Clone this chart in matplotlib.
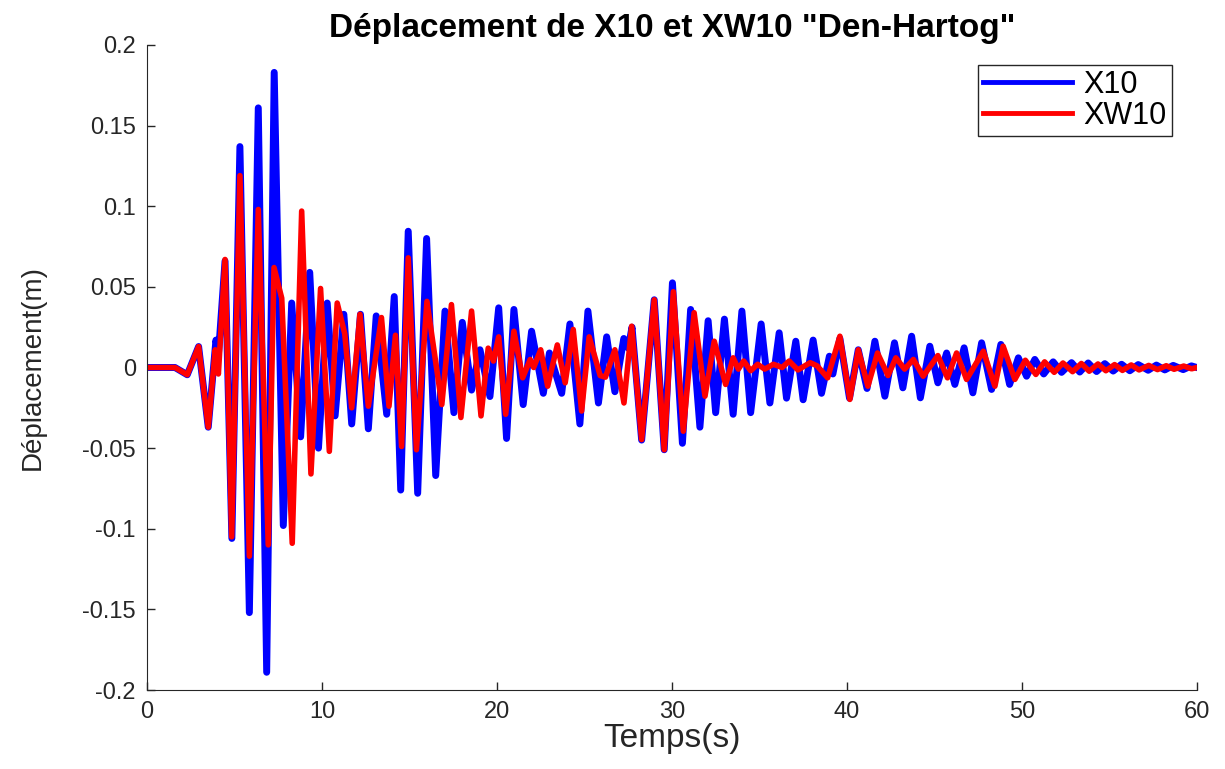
import matplotlib
matplotlib.use('Agg')
import matplotlib.pyplot as plt

# turning points (time in s, displacement in m)
t_x10 = [0, 1.6, 2.3, 2.95, 3.5, 3.94, 4.08, 4.46, 4.85, 5.31, 5.85, 6.36, 6.84, 7.27,
         7.79, 8.27, 8.78, 9.3, 9.8, 10.3, 10.75, 11.25, 11.7, 12.2, 12.65, 13.1, 13.7,
         14.13, 14.5, 14.93, 15.47, 15.98, 16.5, 17.03, 17.54, 18.02, 18.55, 19.03, 19.6,
         20.1, 20.55, 20.97, 21.5, 21.98, 22.65, 23.0, 23.7, 24.17, 24.74, 25.2, 25.8,
         26.27, 26.74, 27.25, 27.5, 27.72, 28.27, 28.99, 29.56, 30.03, 30.6, 31.07, 31.6,
         32.07, 32.5, 33.0, 33.5, 34.0, 34.5, 35.1, 35.6, 36.13, 36.55, 37.08, 37.5, 38.07,
         38.55, 39.0, 39.2, 39.6, 40.15, 40.65, 41.15, 41.6, 42.17, 42.72, 43.2, 43.7, 44.2,
         44.74, 45.2, 45.7, 46.17, 46.7, 47.2, 47.7, 48.27, 48.8, 49.3, 49.8, 50.27, 50.74,
         51.25, 51.79, 52.27, 52.84, 53.31, 53.79, 54.27, 54.74, 55.22, 55.7, 56.17, 56.65,
         57.22, 57.69, 58.17, 58.65, 59.22, 59.69, 60]
x10 = [0, 0, -0.0045, 0.013, -0.037, 0.017, 0.008, 0.066, -0.106, 0.137, -0.152, 0.161,
       -0.189, 0.183, -0.098, 0.040, -0.043, 0.059, -0.050, 0.040, -0.030, 0.033, -0.035,
       0.033, -0.038, 0.032, -0.029, 0.044, -0.076, 0.0845, -0.078, 0.080, -0.067, 0.035,
       -0.028, 0.028, -0.014, 0.011, -0.018, 0.037, -0.044, 0.036, -0.023, 0.0225, -0.016,
       0.009, -0.016, 0.027, -0.035, 0.035, -0.022, 0.019, -0.015, 0.018, 0.012, 0.025,
       -0.045, 0.042, -0.051, 0.0525, -0.047, 0.036, -0.037, 0.029, -0.028, 0.030, -0.029,
       0.035, -0.028, 0.027, -0.022, 0.0215, -0.019, 0.0163, -0.020, 0.017, -0.016, 0.007,
       -0.004, 0.018, -0.019, 0.011, -0.013, 0.0163, -0.0178, 0.0153, -0.0126, 0.0194,
       -0.0188, 0.0132, -0.0095, 0.009, -0.0105, 0.0122, -0.0157, 0.0153, -0.0136, 0.0143,
       -0.0105, 0.006, -0.0054, 0.005, -0.004, 0.0035, -0.003, 0.003, -0.0028, 0.0028,
       -0.0025, 0.0024, -0.0022, 0.002, -0.002, 0.0018, -0.0017, 0.0015, -0.0015, 0.0013,
       -0.0013, 0.001, 0.0]

t_xw10 = [0, 1.6, 2.3, 2.95, 3.5, 3.9, 4.08, 4.46, 4.84, 5.31, 5.85, 6.36, 6.93, 7.26,
          7.7, 8.3, 8.84, 9.37, 9.92, 10.42, 10.87, 11.3, 11.7, 12.17, 12.65, 13.4, 13.83,
          14.2, 14.55, 14.93, 15.4, 16.0, 16.85, 17.4, 17.94, 18.55, 19.09, 19.5, 19.8,
          20.1, 20.5, 20.97, 21.47, 21.9, 22.1, 22.5, 22.9, 23.45, 23.9, 24.36, 24.84,
          25.27, 25.9, 26.2, 26.74, 27.26, 27.7, 28.27, 28.99, 29.56, 30.08, 30.65, 31.27,
          31.89, 32.42, 33.07, 33.5, 33.8, 34.1, 34.5, 34.9, 35.3, 35.8, 36.3, 36.7, 37.2,
          37.9, 38.3, 38.9, 39.6, 40.17, 40.65, 41.2, 41.75, 42.35, 42.8, 43.3, 43.8, 44.36,
          45.2, 45.75, 46.27, 46.84, 47.8, 48.46, 48.93, 49.6, 50.2, 50.8, 51.3, 51.85,
          52.35, 52.9, 53.4, 53.85, 54.35, 54.8, 55.3, 55.75, 56.25, 56.7, 57.25, 57.75,
          58.25, 58.7, 59.25, 59.7, 60]
xw10 = [0, 0, -0.0045, 0.013, -0.037, 0.011, -0.004, 0.067, -0.105, 0.119, -0.117, 0.098,
        -0.110, 0.062, 0.043, -0.109, 0.097, -0.066, 0.049, -0.052, 0.040, 0.021, -0.025,
        0.033, -0.024, 0.031, -0.024, 0.020, -0.049, 0.068, -0.051, 0.041, -0.023, 0.039,
        -0.031, 0.035, -0.030, 0.012, 0.004, 0.019, -0.029, 0.0225, -0.0064, 0.005, 0.0,
        0.011, -0.0116, 0.014, -0.0095, 0.0236, -0.027, 0.019, -0.005, -0.006, 0.011,
        -0.022, 0.0256, -0.0447, 0.042, -0.051, 0.047, -0.0395, 0.034, -0.0178, 0.0163,
        -0.0105, 0.006, -0.001, 0.004, -0.002, 0.002, -0.001, 0.002, 0.0, 0.004, -0.0015,
        0.003, 0.001, -0.0064, 0.0194, -0.0198, 0.011, -0.0116, 0.009, -0.005, 0.006,
        -0.001, 0.005, -0.0054, 0.0074, -0.0064, 0.009, -0.0074, 0.0101, -0.0116, 0.0132,
        -0.0074, 0.0045, -0.0043, 0.0035, -0.003, 0.0028, -0.0026, 0.0025, -0.0023, 0.0022,
        -0.002, 0.0018, -0.0018, 0.0016, -0.0015, 0.0013, -0.0013, 0.0011, -0.0011, 0.0009,
        -0.0008, 0.0]

xticks = [0, 10, 20, 30, 40, 50, 60]
yticks = [0.2, 0.15, 0.1, 0.05, 0, -0.05, -0.1, -0.15, -0.2]
ytick_labels = ['0.2', '0.15', '0.1', '0.05', '0', '-0.05', '-0.1', '-0.15', '-0.2']

plt.rcParams['font.family'] = ['Liberation Sans', 'DejaVu Sans']
grey = '#262626'

fig = plt.figure(figsize=(12.25, 7.69), dpi=100)
ax = fig.add_axes([0.12, 0.1027, 0.857, 0.8388])

ax.plot(t_x10, x10, color='#0000ff', lw=5, solid_joinstyle='round', label='X10')
ax.plot(t_xw10, xw10, color='#ff0000', lw=4, solid_joinstyle='round', label='XW10')

ax.set_xlim(0, 60)
ax.set_ylim(-0.2, 0.2)
ax.set_xticks(xticks)
ax.set_xticklabels([str(v) for v in xticks])
ax.set_yticks(yticks)
ax.set_yticklabels(ytick_labels)
ax.tick_params(direction='in', length=6, width=1, colors=grey, labelsize=17, pad=8)

for side in ['top', 'right']:
    ax.spines[side].set_visible(False)
for side in ['left', 'bottom']:
    ax.spines[side].set_color(grey)

ax.set_xlabel('Temps(s)', fontsize=24, color=grey, labelpad=0)
ax.set_ylabel('Déplacement(m)', fontsize=20, color=grey, labelpad=26)
ax.set_title('Déplacement de X10 et XW10 "Den-Hartog"', fontsize=24, fontweight='bold', pad=6)

leg = ax.legend(loc='upper right', bbox_to_anchor=(0.976, 0.969), borderaxespad=0,
                fontsize=22, fancybox=False, framealpha=1, edgecolor=grey,
                handlelength=2.9, borderpad=0.15, labelspacing=0.05, handletextpad=0.4)
leg.get_frame().set_linewidth(1)
for line in leg.get_lines():
    line.set_linewidth(3.5)

fig.savefig('out.png', dpi=100)
